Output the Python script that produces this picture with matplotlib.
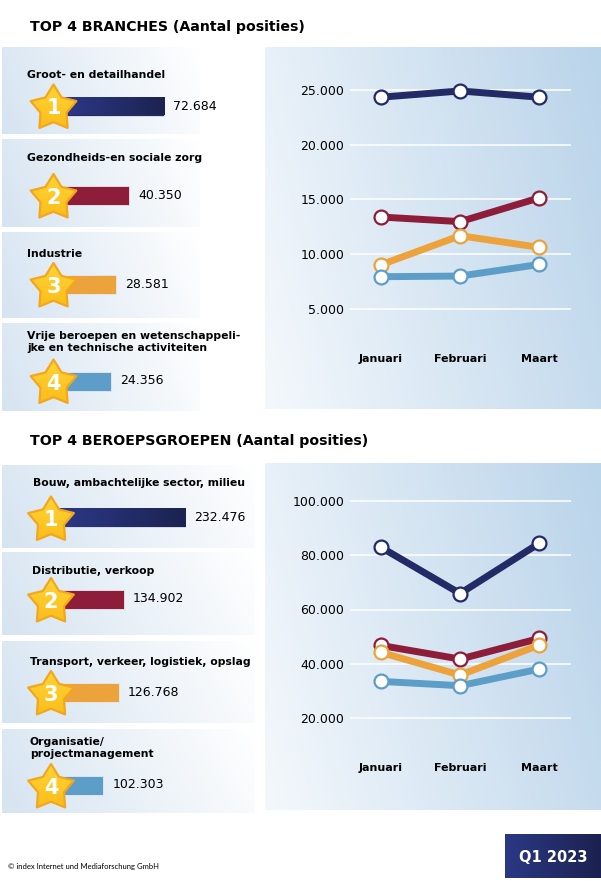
import numpy as np
import matplotlib.pyplot as plt
from matplotlib.patches import Polygon
from matplotlib.colors import LinearSegmentedColormap

W, H = 601, 881

months = ["Januari", "Februari", "Maart"]

branche_labels = ["Groot- en detailhandel",
                  "Gezondheids-en sociale zorg",
                  "Industrie",
                  "Vrije beroepen en wetenschappeli-\njke en technische activiteiten"]
branche_totals = [72684, 40350, 28581, 24356]
branche_monthly = [[24340, 24910, 24340],
                   [13400, 12980, 15150],
                   [9040, 11690, 10630],
                   [7950, 8010, 9070]]

beroep_labels = ["Bouw, ambachtelijke sector, milieu",
                 "Distributie, verkoop",
                 "Transport, verkeer, logistiek, opslag",
                 "Organisatie/\nprojectmanagement"]
beroep_totals = [232476, 134902, 126768, 102303]
beroep_monthly = [[82950, 65890, 84420],
                  [46750, 41720, 49330],
                  [44170, 35830, 46870],
                  [33500, 31900, 38040]]

colors = ["#222b66", "#8e1d39", "#eca33b", "#5c9ec8"]

plt.rcParams['font.family'] = ['DejaVu Sans']

fig = plt.figure(figsize=(W / 100, H / 100), dpi=100)


def px_axes(x0, y0, x1, y1, **kw):
    return fig.add_axes([x0 / W, 1 - y1 / H, (x1 - x0) / W, (y1 - y0) / H], **kw)


def gradient(ax, x0, y0, x1, y1, c0, c1, tilt=0.0, vertical=False, zorder=0):
    gx = np.linspace(0, 1, 200)
    gy = np.linspace(0, 1, 60)[:, None]
    if vertical:
        t = gy * np.ones_like(gx)
    else:
        t = np.clip((1 - tilt) * gx + tilt * (1 - gy), 0, 1)
    cmap = LinearSegmentedColormap.from_list("g", [c0, c1])
    return ax.imshow(t, cmap=cmap, vmin=0, vmax=1, extent=[x0, x1, y1, y0],
                     aspect="auto", interpolation="bilinear", zorder=zorder)


def fmt(v):
    return f"{v:,}".replace(",", ".")


# background layer (pixel coordinates)
bg = px_axes(0, 0, W, H, zorder=0)
# overlay layer for the stars
top = px_axes(0, 0, W, H, zorder=10)
for a in (bg, top):
    a.set_facecolor("none")
    a.axis("off")

# section titles
bg.text(30, 27, "TOP 4 BRANCHES (Aantal posities)", fontsize=10.2, fontweight="bold", va="center")
bg.text(30, 441, "TOP 4 BEROEPSGROEPEN (Aantal posities)", fontsize=10.2, fontweight="bold", va="center")

# left panels
top_panels = [(47, 134), (139, 227), (232, 318), (323, 411)]
bot_panels = [(465, 548), (552, 635), (641, 723), (729, 813)]
for y0, y1 in top_panels:
    gradient(bg, 2, y0, 200, y1, "#d6e4f1", "#ffffff", tilt=0.15)
for y0, y1 in bot_panels:
    gradient(bg, 2, y0, 255, y1, "#d6e4f1", "#ffffff", tilt=0.15)

# right panels
gradient(bg, 265, 47, 601, 409, "#f4f8fc", "#bad4ea", tilt=0.2)
gradient(bg, 265, 463, 601, 810, "#f4f8fc", "#bad4ea", tilt=0.2)

# footer
bg.text(8, 866, "\u00a9 index Internet und Mediaforschung GmbH", fontsize=5.5, family="Lato", va="center")
gradient(bg, 505, 834, 601, 878, "#2b3884", "#1b2250")
bg.text(553, 857, "Q1 2023", fontsize=10.5, fontweight="bold", color="white", ha="center", va="center")

bg.set_xlim(0, W)
bg.set_ylim(H, 0)


def star(cx, cy, r, num):
    k = np.arange(10)
    ang = np.deg2rad(90 + k * 36)
    rad = np.where(k % 2 == 0, r, r * 0.57)
    pts = np.column_stack([cx + rad * np.cos(ang), cy - rad * np.sin(ang)])
    poly = Polygon(pts, closed=True, facecolor="none", edgecolor="#f3a71e", lw=1.6,
                   joinstyle="round", zorder=3)
    top.add_patch(poly)
    im = gradient(top, cx - r, cy - r, cx + r, cy + r, "#ffd536", "#fbbb17",
                  vertical=True, zorder=2)
    im.set_clip_path(poly)
    top.text(cx, cy, str(num), fontsize=15, fontweight="bold", color="white",
             ha="center", va="center", zorder=4)


def bar_row(x0, x1, yc, xlim, value, color):
    ax = px_axes(x0, yc - 9.5, x1, yc + 9.5, zorder=5)
    ax.set_facecolor("none")
    ax.axis("off")
    left = xlim[0]
    b = ax.barh(0, value - left, left=left, height=1, color=color,
                edgecolor="#e6e9f3", lw=0.6, clip_on=False)[0]
    if color == colors[0]:
        im = ax.imshow(np.linspace(0, 1, 100)[None, :],
                       cmap=LinearSegmentedColormap.from_list("n", ["#2c3888", "#1c2350"]),
                       extent=[left, value, -0.5, 0.5], aspect="auto", zorder=3)
        im.set_clip_path(b)
    ax.set_xlim(*xlim)
    ax.set_ylim(-0.5, 0.5)
    ax.annotate(fmt(value), xy=(value, 0), xytext=(6.5, 0), textcoords="offset points",
                va="center", fontsize=9, annotation_clip=False)


# top section bars
top_bar_y = [106, 195.5, 284.5, 381]
top_label_y = [75, 158, 254, 342]
for i in range(4):
    bg.text(27, top_label_y[i], branche_labels[i], fontsize=7.8, fontweight="bold",
            va="center", linespacing=1.15)
    bar_row(64, 180, top_bar_y[i], (-19300, 87400), branche_totals[i], colors[i])
    star(53.5, top_bar_y[i] + 2.5, 24, i + 1)

# bottom section bars
bot_bar_y = [517.5, 599, 692, 785]
bot_label_y = [483, 571, 662, 748]
bot_label_x = [33, 32, 30, 30]
for i in range(4):
    bg.text(bot_label_x[i], bot_label_y[i], beroep_labels[i], fontsize=7.8, fontweight="bold",
            va="center", linespacing=1.15)
    bar_row(58, 200, bot_bar_y[i], (30200, 255600), beroep_totals[i], colors[i])
    star(51, bot_bar_y[i] + 3, 24, i + 1)

top.set_xlim(0, W)
top.set_ylim(H, 0)


def line_chart(y0, y1, data, ylim, ticks):
    ax = px_axes(350, y0, 571, y1, zorder=4)
    ax.set_facecolor("none")
    for s in ax.spines.values():
        s.set_visible(False)
    x = np.arange(len(months))
    for i in range(len(data)):
        ax.plot(x, data[i], color=colors[i], lw=5, marker="o", ms=10,
                mfc="white", mec=colors[i], mew=1.6, clip_on=False, zorder=3 + i)
    ax.set_xlim(-0.39, 2.4)
    ax.set_ylim(*ylim)
    ax.set_yticks(ticks)
    ax.set_yticklabels([fmt(t) for t in ticks], fontsize=9)
    ax.set_xticks(x)
    ax.set_xticklabels(months, fontsize=8, fontweight="bold")
    ax.tick_params(axis="y", length=0, pad=4)
    ax.tick_params(axis="x", length=0, pad=13)
    ax.yaxis.grid(True, color="white", lw=1.1)
    ax.set_axisbelow(True)


line_chart(62.6, 336.4, branche_monthly, (2500, 27500), [5000, 10000, 15000, 20000, 25000])
line_chart(473.9, 745.1, beroep_monthly, (10000, 110000), [20000, 40000, 60000, 80000, 100000])

fig.savefig("out.png", dpi=100)
